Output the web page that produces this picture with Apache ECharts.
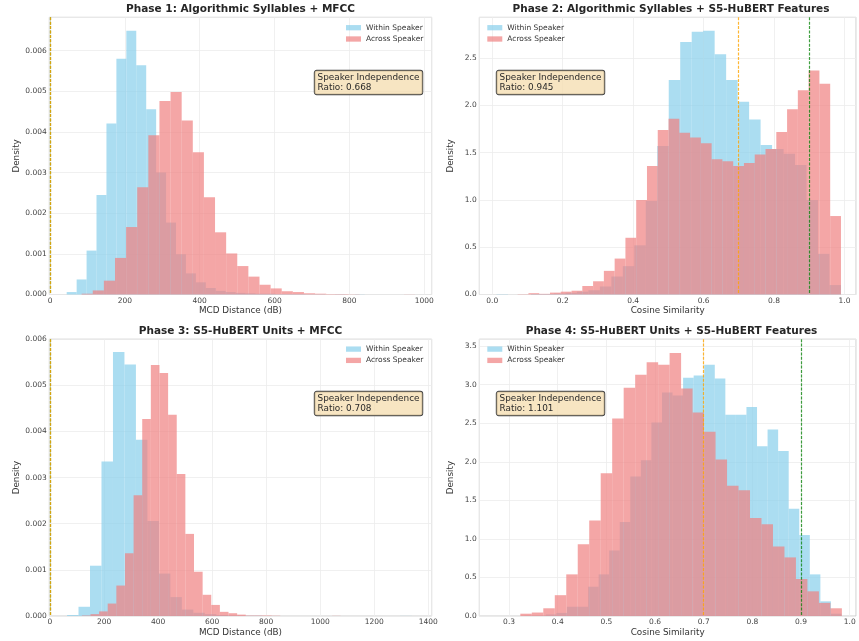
<!DOCTYPE html>
<html><head><meta charset="utf-8">
<script src="https://cdn.jsdelivr.net/npm/echarts@6/dist/echarts.min.js"></script>
<style>html,body{margin:0;padding:0;background:#fff}#c{width:859px;height:641px}</style>
</head><body><div id="c"></div>
<script>
// ---------------- data ----------------
const seriesNames = ['Within Speaker', 'Across Speaker'];
const panelTitles = [
  'Phase 1: Algorithmic Syllables + MFCC',
  'Phase 2: Algorithmic Syllables + S5-HuBERT Features',
  'Phase 3: S5-HuBERT Units + MFCC',
  'Phase 4: S5-HuBERT Units + S5-HuBERT Features'
];
const xAxisNames = ['MCD Distance (dB)', 'Cosine Similarity', 'MCD Distance (dB)', 'Cosine Similarity'];
const yAxisName = 'Density';
const independenceRatios = ['0.668', '0.945', '0.708', '1.101'];
const thresholds = [0.9, 0.7];

// Phase 1 (MCD)
const p1WithinStart = 44.6, p1WithinBinWidth = 26.55;
const p1WithinDensity = [0.00006, 0.00037, 0.00108, 0.00245, 0.00421, 0.00580, 0.00649, 0.00564, 0.00456, 0.00300,
  0.00177, 0.00099, 0.00052, 0.00030, 0.00016, 0.00009, 0.00006, 0.00004, 0.00003, 0.00002,
  0.00002, 0.00001, 0.00001, 0.00001, 0.000005, 0.000005, 0, 0.000004, 0, 0.000004];
const p1AcrossStart = 84.5, p1AcrossBinWidth = 29.7;
const p1AcrossDensity = [0.00002, 0.00010, 0.00034, 0.00090, 0.00166, 0.00264, 0.00392, 0.00476, 0.00498, 0.00428,
  0.00350, 0.00239, 0.00153, 0.00101, 0.00070, 0.00044, 0.00024, 0.00015, 0.00008, 0.00006,
  0.00003, 0.00002, 0.00001, 0.00001, 0.000005, 0, 0, 0, 0, 0.000003];

// Phase 2 (cosine)
const p2WithinStart = 0.012, p2WithinBinWidth = 0.0326;
const p2WithinDensity = [0.003, 0, 0, 0.005, 0.005, 0.01, 0.018, 0.03, 0.045, 0.085,
  0.19, 0.30, 0.52, 0.99, 1.57, 2.27, 2.67, 2.78, 2.79, 2.54,
  2.27, 2.04, 1.85, 1.58, 1.54, 1.49, 1.37, 1.00, 0.43, 0.10];
const p2AcrossStart = 0.072, p2AcrossBinWidth = 0.0306;
const p2AcrossDensity = [0.003, 0.014, 0.007, 0.02, 0.03, 0.04, 0.09, 0.14, 0.25, 0.38,
  0.60, 1.00, 1.36, 1.74, 1.86, 1.71, 1.66, 1.60, 1.43, 1.41,
  1.36, 1.39, 1.48, 1.54, 1.72, 1.96, 2.16, 2.37, 2.23, 0.83];

// Phase 3 (MCD)
const p3WithinStart = 63, p3WithinBinWidth = 42.5;
const p3WithinDensity = [0.00002, 0.00020, 0.00109, 0.00335, 0.00572, 0.00545, 0.00382, 0.00206, 0.00092, 0.00041,
  0.00014, 0.00007, 0.00004, 0.00002, 0.00001, 0.000005, 0.000005, 0, 0, 0,
  0, 0, 0, 0, 0, 0, 0, 0, 0, 0.000002];
const p3AcrossStart = 117.8, p3AcrossBinWidth = 31.93;
const p3AcrossDensity = [0.00001, 0.00004, 0.00010, 0.00027, 0.00066, 0.00136, 0.00262, 0.00427, 0.00544, 0.00527,
  0.00436, 0.00308, 0.00178, 0.00096, 0.00046, 0.00024, 0.00009, 0.00006, 0.00003, 0.00001,
  0.00001, 0.00001, 0.000005, 0, 0, 0, 0, 0, 0, 0.000003];

// Phase 4 (cosine)
const p4WithinStart = 0.3321, p4WithinBinWidth = 0.0217;
const p4WithinDensity = [0.003, 0.005, 0.02, 0.04, 0.12, 0.12, 0.38, 0.54, 0.85, 1.22,
  1.81, 2.02, 2.51, 2.90, 2.86, 3.09, 3.12, 3.26, 3.08, 2.61,
  2.61, 2.71, 2.20, 2.42, 2.14, 1.39, 1.05, 0.54, 0.19, 0.03];
const p4AcrossStart = 0.3231, p4AcrossBinWidth = 0.0236;
const p4AcrossDensity = [0.03, 0.045, 0.10, 0.27, 0.54, 0.93, 1.24, 1.85, 2.56, 2.96,
  3.13, 3.29, 3.26, 3.41, 2.95, 2.64, 2.39, 2.03, 1.69, 1.63,
  1.27, 1.19, 0.90, 0.76, 0.48, 0.32, 0.17, 0.10];

// ---------------- layout / style ----------------
const FONT = 'DejaVu Sans';
const BLUE = 'rgba(135,206,235,0.7)';
const RED = 'rgba(240,128,128,0.7)';
const LINE_COLORS = ['rgba(0,128,0,0.75)', 'rgba(255,165,0,0.8)'];

const grids = [
  {left: 49.3, top: 17.3, width: 382.4, height: 277.2},
  {left: 479.3, top: 17.3, width: 379.7, height: 277.2},
  {left: 49.3, top: 339.2, width: 382.4, height: 276.8},
  {left: 479.3, top: 339.2, width: 379.7, height: 276.8}
];
const xRanges = [
  {min: -1.9, max: 1019.8, split: 5, step: 200, dec: 0},
  {min: -0.0369, max: 1.0327, split: 5, step: 0.2, dec: 1},
  {min: -2.6, max: 1412.6, split: 7, step: 200, dec: 0},
  {min: 0.2388, max: 1.0129, split: 8, step: 0.1, dec: 1}
];
const yRanges = [
  {max: 0.00682, step: 0.001, dec: 3},
  {max: 2.932, step: 0.5, dec: 1},
  {max: 0.006, step: 0.001, dec: 3},
  {max: 3.59, step: 0.5, dec: 1}
];
const legendPos = [{left: 346, top: 23.2}, {left: 487.3, top: 23.2}, {left: 346, top: 344.6}, {left: 487.3, top: 344.6}];
const boxPos = [{x: 314.7, y: 70.7}, {x: 496.7, y: 70.7}, {x: 314.7, y: 391.7}, {x: 496.7, y: 391.7}];
const titleCenterX = [240.5, 671, 240.5, 671.5];
const titleY = [9.4, 330.8];

function toBins(start, width, dens) {
  return dens.map((h, i) => [start + i * width, start + (i + 1) * width, h]);
}
const histData = [
  [toBins(p1WithinStart, p1WithinBinWidth, p1WithinDensity), toBins(p1AcrossStart, p1AcrossBinWidth, p1AcrossDensity)],
  [toBins(p2WithinStart, p2WithinBinWidth, p2WithinDensity), toBins(p2AcrossStart, p2AcrossBinWidth, p2AcrossDensity)],
  [toBins(p3WithinStart, p3WithinBinWidth, p3WithinDensity), toBins(p3AcrossStart, p3AcrossBinWidth, p3AcrossDensity)],
  [toBins(p4WithinStart, p4WithinBinWidth, p4WithinDensity), toBins(p4AcrossStart, p4AcrossBinWidth, p4AcrossDensity)]
];

function renderHist(params, api) {
  const a = api.coord([api.value(0), api.value(2)]);
  const b = api.coord([api.value(1), 0]);
  return {
    type: 'rect',
    shape: {x: a[0], y: a[1], width: b[0] - a[0], height: b[1] - a[1]},
    style: {fill: api.visual('color')}
  };
}
function renderVLine(params, api) {
  const x = api.coord([api.value(0), 0])[0];
  const cs = params.coordSys;
  const px = Math.round(x - 0.5) + 0.5;
  return {
    type: 'line',
    shape: {x1: px, y1: cs.y, x2: px, y2: cs.y + cs.height},
    style: {stroke: api.visual('color'), lineWidth: 1.2, lineDash: [3, 1.4], fill: null}
  };
}
function multipleFormatter(step, dec) {
  return function (v) {
    const r = v / step;
    return Math.abs(r - Math.round(r)) < 1e-6 ? Number(v).toFixed(dec) : '';
  };
}

const option = {
  backgroundColor: '#ffffff',
  animation: false,
  textStyle: {fontFamily: FONT},
  grid: grids.map(g => Object.assign({show: true, borderColor: '#cccccc', borderWidth: 1, containLabel: false}, g)),
  xAxis: xRanges.map((r, i) => ({
    type: 'value', gridIndex: i, min: r.min, max: r.max, splitNumber: r.split,
    name: xAxisNames[i], nameLocation: 'middle', nameGap: 12,
    nameTextStyle: {fontSize: 8.8, color: '#333', fontFamily: FONT},
    axisLine: {show: false}, axisTick: {show: false},
    axisLabel: {fontSize: 7.5, color: '#444', margin: 2.5, fontFamily: FONT, formatter: multipleFormatter(r.step, r.dec)},
    splitLine: {show: true, lineStyle: {color: '#ececec', width: 0.8}}
  })),
  yAxis: yRanges.map((r, i) => ({
    type: 'value', gridIndex: i, min: 0, max: r.max, interval: r.step,
    name: yAxisName, nameLocation: 'middle', nameGap: 24.2, nameRotate: 90,
    nameTextStyle: {fontSize: 8.8, color: '#333', fontFamily: FONT},
    axisLine: {show: false}, axisTick: {show: false},
    axisLabel: {fontSize: 7.5, color: '#444', margin: 2.6, fontFamily: FONT, formatter: multipleFormatter(r.step, r.dec)},
    splitLine: {show: true, lineStyle: {color: '#ececec', width: 0.8}}
  })),
  legend: legendPos.map(p => ({
    data: seriesNames, orient: 'vertical', left: p.left, top: p.top,
    itemWidth: 15, itemHeight: 5.3, itemGap: 2.3, icon: 'rect', selectedMode: false, padding: 0,
    textStyle: {fontSize: 7.5, lineHeight: 9, color: '#333', fontFamily: FONT}
  })),
  graphic: [],
  series: []
};

histData.forEach((pair, i) => {
  option.series.push({
    type: 'custom', name: seriesNames[0], xAxisIndex: i, yAxisIndex: i,
    itemStyle: {color: BLUE}, renderItem: renderHist, encode: {x: [0, 1], y: 2}, data: pair[0], silent: true
  });
  option.series.push({
    type: 'custom', name: seriesNames[1], xAxisIndex: i, yAxisIndex: i,
    itemStyle: {color: RED}, renderItem: renderHist, encode: {x: [0, 1], y: 2}, data: pair[1], silent: true
  });
  thresholds.forEach((t, k) => {
    option.series.push({
      type: 'custom', name: 'threshold ' + t, xAxisIndex: i, yAxisIndex: i, silent: true, z: 5,
      itemStyle: {color: LINE_COLORS[k]}, renderItem: renderVLine, encode: {x: 0}, data: [[t]]
    });
  });
  option.graphic.push({
    type: 'text', x: titleCenterX[i], y: titleY[i < 2 ? 0 : 1], silent: true,
    style: {text: panelTitles[i], font: 'bold 10.5px "DejaVu Sans"', fill: '#262626', align: 'center', verticalAlign: 'middle', textAlign: 'center', textVerticalAlign: 'middle'}
  });
  option.graphic.push({
    type: 'text', x: boxPos[i].x, y: boxPos[i].y, silent: true, z: 100,
    style: {
      text: 'Speaker Independence\nRatio: ' + independenceRatios[i],
      font: '8.9px "DejaVu Sans"', fill: '#2a2a2a', lineHeight: 10.3,
      align: 'left', verticalAlign: 'top',
      backgroundColor: 'rgba(245,222,179,0.8)', borderColor: '#444', borderWidth: 0.9, borderRadius: 2,
      padding: [1.6, 2.8, 1.4, 2.8]
    }
  });
});

const chart = echarts.init(document.getElementById('c'), null, {renderer: 'canvas'});
chart.setOption(option);
</script>
</body></html>
